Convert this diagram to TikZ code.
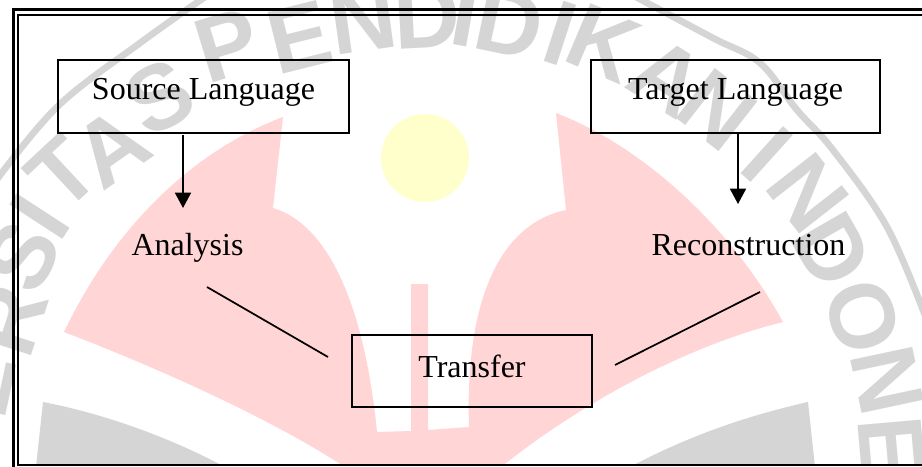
\documentclass[tikz,border=0pt]{standalone}
\usepackage{fontspec}
\setmainfont{Liberation Serif}
\newfontfamily\wmfamily{Liberation Sans}
\usetikzlibrary{arrows.meta}
\definecolor{wmgray}{HTML}{D5D5D5}
\definecolor{wmred}{HTML}{FFD5D5}
\definecolor{wmyellow}{HTML}{FFFFCC}
\tikzset{
  wm/.style={text=wmgray,font=\wmfamily\bfseries\fontsize{69}{69}\selectfont,inner sep=0pt},
  labelbox/.style={draw=black,line width=1.8pt,font=\fontsize{24}{28}\selectfont,inner sep=0pt},
  plainlabel/.style={font=\fontsize{24}{28}\selectfont,inner sep=0pt,anchor=base},
  arrowline/.style={draw=black,line width=1.3pt,-{Triangle[length=11.5pt,width=12pt]}},
  linkline/.style={draw=black,line width=1.3pt},
  frameline/.style={draw=black,line width=1.9pt}
}
\begin{document}
\begin{tikzpicture}[x=0.75pt,y=-0.75pt]
\useasboundingbox (0,0) rectangle (922,467);
\fill[white] (0,0) rectangle (922,467);
\begin{scope}
\clip (0,0) rectangle (922,464);
% seal
\fill[wmyellow] (425,158) circle [radius=44];
\fill[wmred] (283,117) .. controls (195,150) and (115,225) .. (64,332)
  .. controls (150,365) and (265,415) .. (345,467)
  -- (501,467) .. controls (585,400) and (690,345) .. (783,322)
  .. controls (730,225) and (640,145) .. (556,113)
  -- (566,210) .. controls (495,225) and (465,310) .. (469,427)
  -- (428,430) -- (428,284) -- (411,284) -- (411,431) -- (377,432)
  .. controls (365,310) and (330,225) .. (273,208) -- cycle;
\fill[wmgray] (43,402) .. controls (100,413) and (165,435) .. (225,467) -- (36,467) -- cycle;
\fill[wmgray] (808,402) .. controls (750,415) and (690,435) .. (630,467) -- (815,467) -- cycle;
\draw[wmgray,line width=5pt] plot[smooth,tension=0.6] coordinates {(-8,186) (57,107) (140,43) (205,-3)};
\draw[wmgray,line width=5pt] plot[smooth,tension=0.6] coordinates {(636,-3) (713,38) (760,63) (797,110) (833,150) (887,227) (926,318)};
\foreach \l/\x/\y/\r [count=\i] in {
  E/-20/385/78, R/10/320/72, S/22/257/63, I/40/217/57, T/62/173/43, A/112/148/35, S/160/97/28,
  P/228/45/17, E/300/37/14, N/363/20/8, D/427/16/3, I/466/15/-10, D/510/23/-12, I/560/33/-18,
  K/603/43/-23, A/667/77/-32, N/717/110/-38, I/767/155/-42, N/808/193/-52, D/833/250/-60,
  O/863/317/-72, N/887/380/-78, E/892/447/-85} {
  \node[wm,rotate=\r,name=wm\i] at (\x,\y) {\l};
}
\end{scope}
% frame
\draw[frameline] (13.5,467) -- (13.5,9.7) -- (922,9.7);
\draw[frameline] (922,15) -- (18,15) -- (18,465) -- (922,465);
% boxes and labels
\node[labelbox,minimum width=291*0.75pt,minimum height=73*0.75pt,text height=12pt,text depth=6.75pt] (src) at (203.5,96.5) {Source Language};
\node[labelbox,minimum width=289*0.75pt,minimum height=73*0.75pt,text height=12pt,text depth=6.75pt] (tgt) at (735.5,96.5) {Target Language};
\node[labelbox,minimum width=240*0.75pt,minimum height=72*0.75pt,text height=14pt,text depth=5pt] (trf) at (472,371) {Transfer};
\node[plainlabel] (ana) at (187.5,255) {Analysis};
\node[plainlabel] (rec) at (748.5,255) {Reconstruction};
% connector ends
\coordinate (srcout) at (183,135);
\coordinate (anain) at (183,208);
\coordinate (tgtout) at (738,134);
\coordinate (recin) at (738,204);
\coordinate (anaout) at (207,287);
\coordinate (trfinl) at (328,357);
\coordinate (recout) at (760,292);
\coordinate (trfinr) at (615,365);
\draw[arrowline] (srcout) -- (anain);
\draw[arrowline] (tgtout) -- (recin);
\draw[linkline] (anaout) -- (trfinl);
\draw[linkline] (recout) -- (trfinr);
\end{tikzpicture}
\end{document}
